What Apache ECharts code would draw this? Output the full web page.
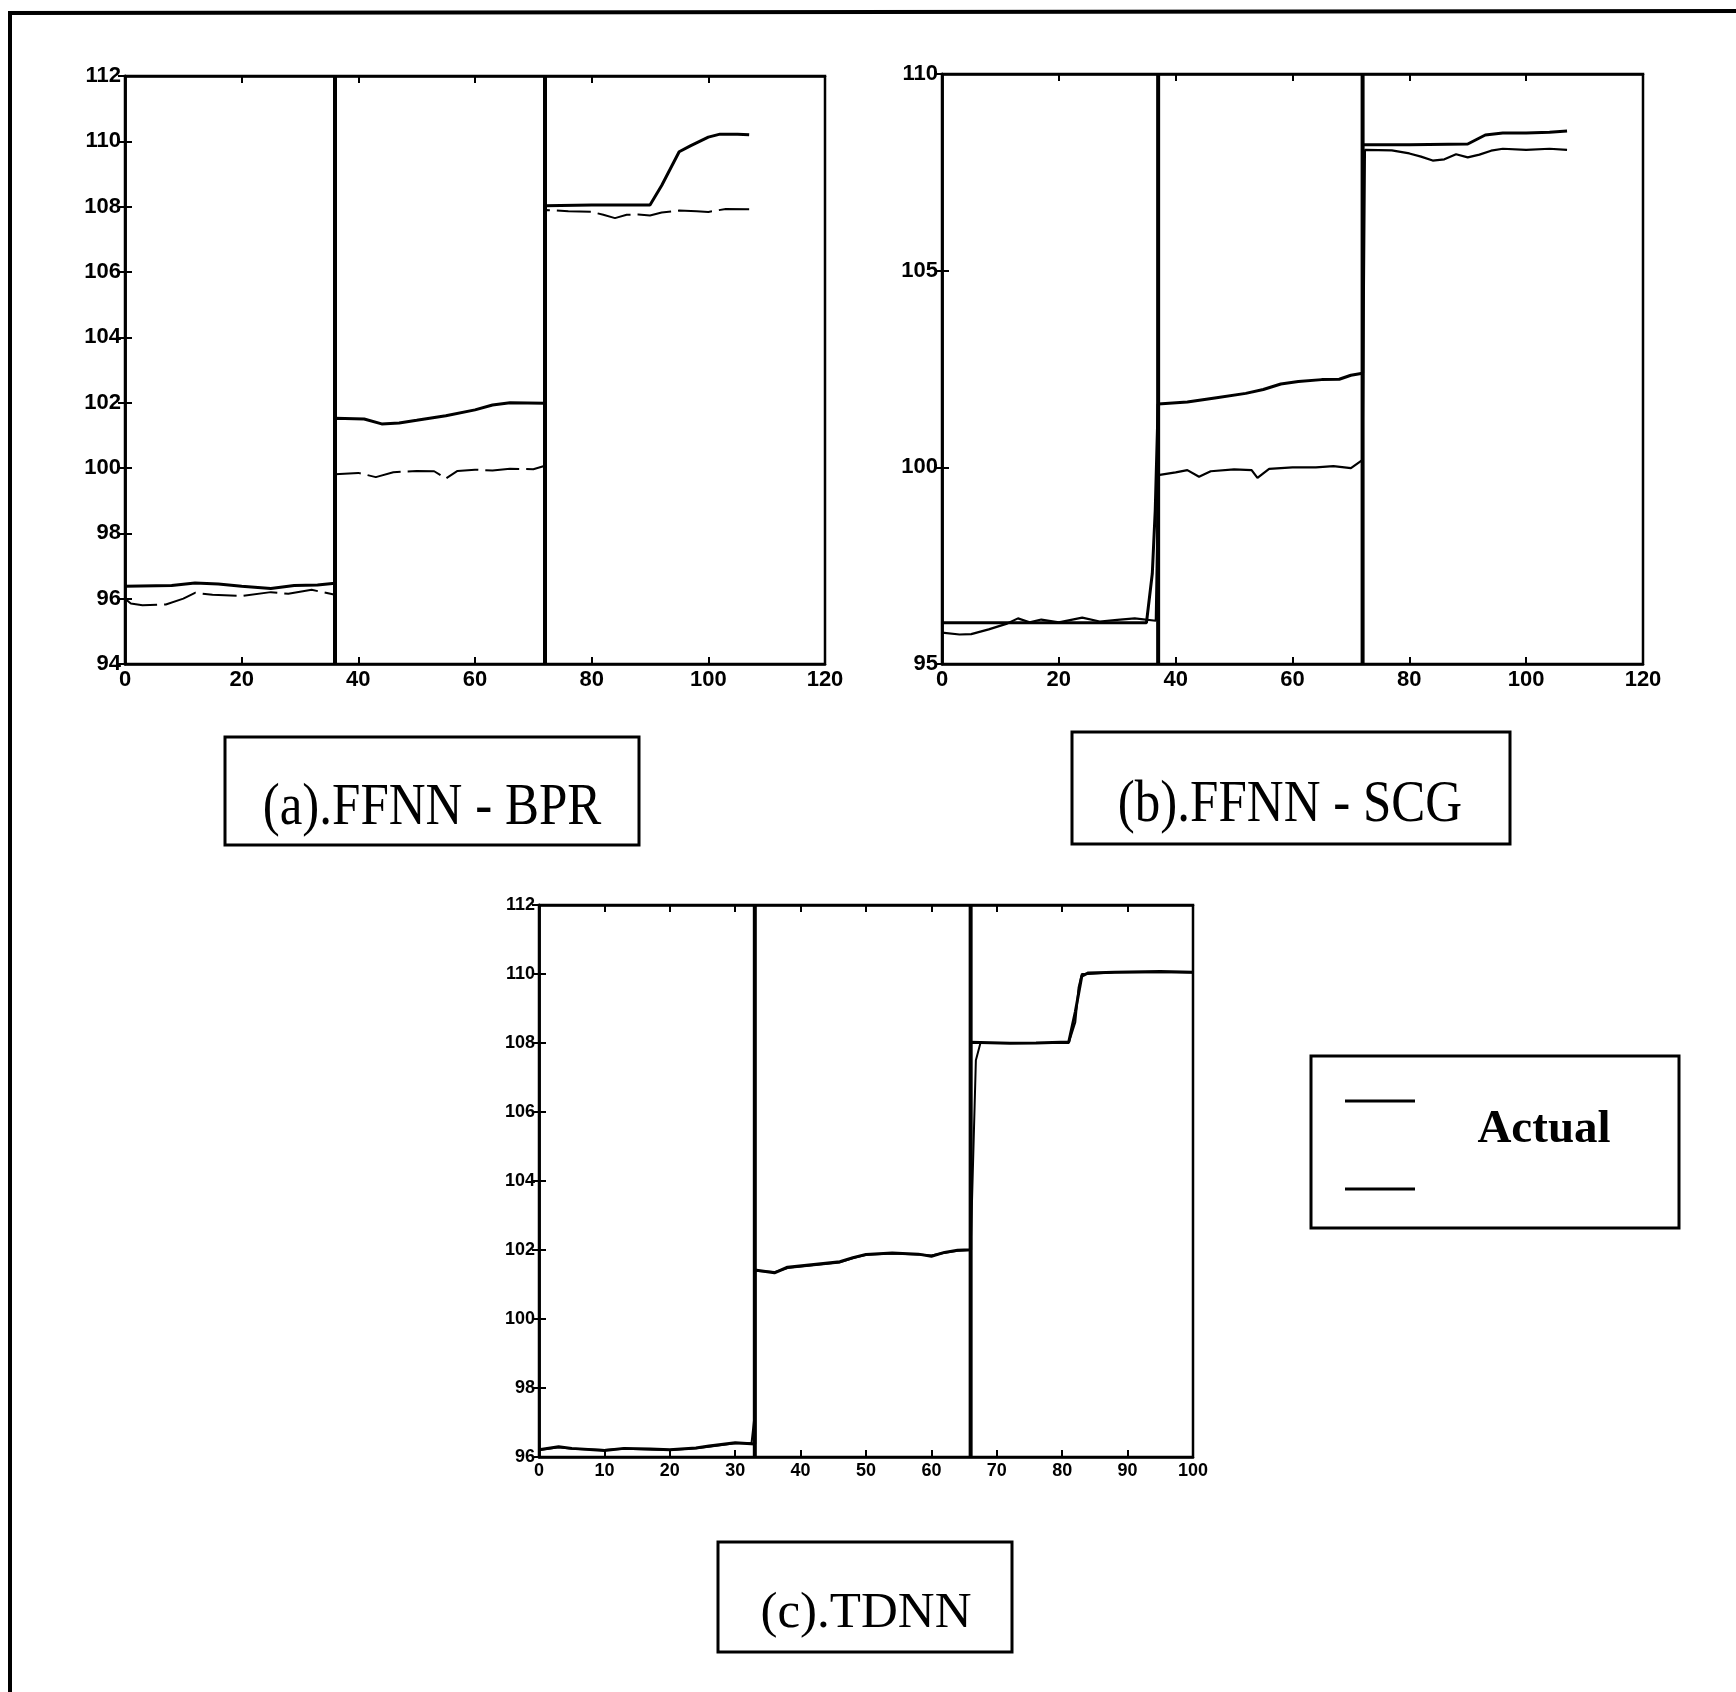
<!DOCTYPE html>
<html>
<head>
<meta charset="utf-8">
<script src="https://cdn.jsdelivr.net/npm/echarts@6/dist/echarts.min.js"></script>
<style>
  html, body { margin: 0; padding: 0; background: #fff; }
  #chart { width: 1736px; height: 1692px; }
</style>
</head>
<body>
<div id="chart"></div>
<script>
// ---------- Data ----------
// (a) FFNN - BPR
const aXTicks = [0, 20, 40, 60, 80, 100, 120];
const aYTicks = [94, 96, 98, 100, 102, 104, 106, 108, 110, 112];
const aSplits = [36, 72];
const aActualX = [0, 8, 12, 16, 20, 25, 29, 33, 36, 36, 41, 44, 47, 50, 55, 60, 63, 66, 72, 72, 80, 90, 92, 95, 97, 100, 102, 105, 107];
const aActualY = [96.38, 96.4, 96.48, 96.45, 96.38, 96.31, 96.4, 96.42, 96.47, 101.52, 101.5, 101.35, 101.38, 101.46, 101.6, 101.78, 101.93, 102.0, 101.98, 108.03, 108.05, 108.05, 108.65, 109.68, 109.87, 110.13, 110.22, 110.22, 110.2];
const aPredX = [0, 1, 3, 7, 10, 12, 15, 20, 25, 28, 32, 36, 36, 40, 43, 46, 50, 53, 55, 57, 60, 63, 66, 70, 72, 72, 76, 80, 82, 84, 86, 88, 90, 92, 95, 98, 100, 103, 107];
const aPredY = [96.0, 95.85, 95.8, 95.82, 96.0, 96.18, 96.12, 96.08, 96.2, 96.15, 96.27, 96.12, 99.81, 99.85, 99.72, 99.87, 99.91, 99.9, 99.68, 99.91, 99.95, 99.92, 99.98, 99.96, 100.07, 107.9, 107.86, 107.84, 107.75, 107.65, 107.75, 107.76, 107.73, 107.82, 107.88, 107.86, 107.84, 107.93, 107.92];

// (b) FFNN - SCG
const bXTicks = [0, 20, 40, 60, 80, 100, 120];
const bYTicks = [95, 100, 105, 110];
const bSplits = [37, 72];
const bActualX = [0, 10, 20, 30, 35, 36, 36.5, 37, 42, 47, 52, 55, 58, 61, 65, 68, 70, 72, 72, 80, 90, 93, 96, 100, 104, 107];
const bActualY = [96.05, 96.05, 96.05, 96.05, 96.05, 97.3, 98.9, 101.61, 101.66, 101.77, 101.88, 101.98, 102.12, 102.18, 102.23, 102.24, 102.34, 102.39, 108.2, 108.2, 108.22, 108.45, 108.5, 108.5, 108.52, 108.55];
const bPredX = [0, 3, 5, 8, 11, 13, 15, 17, 20, 24, 27, 30, 33, 36.6, 37, 40, 42, 44, 46, 50, 53, 54, 56, 60, 64, 67, 70, 72, 72.4, 77, 80, 82, 84, 86, 88, 90, 92, 94, 96, 100, 104, 107];
const bPredY = [95.8, 95.75, 95.76, 95.88, 96.02, 96.16, 96.06, 96.13, 96.06, 96.18, 96.08, 96.12, 96.16, 96.1, 99.8, 99.87, 99.93, 99.76, 99.9, 99.95, 99.93, 99.73, 99.96, 100.0, 100.0, 100.03, 99.98, 100.19, 108.07, 108.06, 107.98, 107.9, 107.8, 107.83, 107.96, 107.88, 107.95, 108.05, 108.1, 108.07, 108.1, 108.07];

// (c) TDNN
const cXTicks = [0, 10, 20, 30, 40, 50, 60, 70, 80, 90, 100];
const cYTicks = [96, 98, 100, 102, 104, 106, 108, 110, 112];
const cSplits = [33, 66];
const cActualX = [0, 3, 5, 10, 13, 17, 20, 24, 26, 30, 33, 33, 36, 38, 42, 46, 48, 50, 54, 58, 60, 62, 64, 66, 66, 72, 76, 81, 82, 83, 84, 88, 95, 100];
const cActualY = [96.21, 96.3, 96.25, 96.19, 96.25, 96.23, 96.21, 96.26, 96.32, 96.41, 96.38, 101.42, 101.34, 101.5, 101.58, 101.66, 101.78, 101.87, 101.91, 101.88, 101.82, 101.93, 101.99, 102.01, 108.02, 107.99, 108.0, 108.03, 108.9, 109.94, 110.03, 110.05, 110.07, 110.05];
const cPredX = [0, 3, 5, 10, 13, 17, 20, 24, 26, 30, 32.5, 32.9, 33, 36, 38, 42, 46, 48, 50, 54, 58, 60, 62, 64, 66, 66.8, 67.5, 72, 76, 81, 82, 82.5, 83, 84, 88, 95, 100];
const cPredY = [96.2, 96.28, 96.24, 96.2, 96.24, 96.22, 96.2, 96.25, 96.3, 96.4, 96.4, 97.1, 101.4, 101.36, 101.48, 101.56, 101.64, 101.76, 101.86, 101.9, 101.87, 101.84, 101.92, 101.98, 102.0, 107.5, 108.0, 108.0, 108.0, 108.0, 108.6, 109.6, 110.0, 110.0, 110.05, 110.06, 110.04];

const panelLabels = ['(a).FFNN - BPR', '(b).FFNN - SCG', '(c).TDNN'];
const legendLabels = ['Actual', ''];

// ---------- Build ----------
const pairs = (xs, ys) => xs.map((x, i) => [x, ys[i]]);
const tickFont = '"Liberation Sans Narrow", "Liberation Sans", Arial, sans-serif';

const panels = [
  { grid: { left: 125, top: 76, width: 700, height: 588 }, xt: aXTicks, yt: aYTicks, splits: aSplits,
    ax: aActualX, ay: aActualY, px: aPredX, py: aPredY, fs: 22, actW: 3, predW: 2, predType: [34, 7] },
  { grid: { left: 942, top: 74, width: 701, height: 590 }, xt: bXTicks, yt: bYTicks, splits: bSplits,
    ax: bActualX, ay: bActualY, px: bPredX, py: bPredY, fs: 22, actW: 3, predW: 2.2, predType: 'solid' },
  { grid: { left: 539, top: 905, width: 654, height: 552 }, xt: cXTicks, yt: cYTicks, splits: cSplits,
    ax: cActualX, ay: cActualY, px: cPredX, py: cPredY, fs: 18, actW: 3, predW: 2, predType: 'solid' }
];

const grids = [], xAxes = [], yAxes = [], series = [];
panels.forEach((p, i) => {
  const xmin = p.xt[0], xmax = p.xt[p.xt.length - 1], xint = p.xt[1] - p.xt[0];
  const ymin = p.yt[0], ymax = p.yt[p.yt.length - 1], yint = p.yt[1] - p.yt[0];
  grids.push(Object.assign({ show: true, borderColor: '#000', borderWidth: 2.5, backgroundColor: '#fff' }, p.grid));
  const lbl = { color: '#000', fontFamily: tickFont, fontWeight: 'bold', fontSize: p.fs };
  const tick = { inside: true, length: 7, lineStyle: { color: '#000', width: 2 } };
  const line = { lineStyle: { color: '#000', width: 2.5 } };
  xAxes.push({ gridIndex: i, type: 'value', min: xmin, max: xmax, interval: xint, position: 'bottom',
    axisLine: line, axisTick: tick, axisLabel: Object.assign({ margin: 5 }, lbl), splitLine: { show: false } });
  xAxes.push({ gridIndex: i, type: 'value', min: xmin, max: xmax, interval: xint, position: 'top',
    axisLine: line, axisTick: tick, axisLabel: { show: false }, splitLine: { show: false } });
  yAxes.push({ gridIndex: i, type: 'value', min: ymin, max: ymax, interval: yint, position: 'left',
    axisLine: line, axisTick: tick, axisLabel: Object.assign({ margin: 4 }, lbl), splitLine: { show: false } });
  yAxes.push({ gridIndex: i, type: 'value', min: ymin, max: ymax, interval: yint, position: 'right',
    axisLine: line, axisTick: tick, axisLabel: { show: false }, splitLine: { show: false } });
  const xi = i * 2, yi = i * 2;
  series.push({ type: 'line', name: 'Actual', xAxisIndex: xi, yAxisIndex: yi, data: pairs(p.ax, p.ay),
    showSymbol: false, symbol: 'none', lineStyle: { color: '#000', width: p.actW }, z: 3, animation: false });
  series.push({ type: 'line', name: 'Predicted', xAxisIndex: xi, yAxisIndex: yi, data: pairs(p.px, p.py),
    showSymbol: false, symbol: 'none', lineStyle: { color: '#000', width: p.predW, type: p.predType }, z: 3, animation: false });
  p.splits.forEach(s => {
    series.push({ type: 'line', xAxisIndex: xi, yAxisIndex: yi, data: [[s, ymin], [s, ymax]], symbol: 'none',
      lineStyle: { color: '#000', width: 4 }, z: 4, animation: false, silent: true });
  });
});

const serif = '"Liberation Serif", "Times New Roman", serif';
const graphic = [
  // scanned page frame (top and left edges)
  { type: 'line', shape: { x1: 10, y1: 13, x2: 1736, y2: 11 }, style: { stroke: '#000', lineWidth: 4 } },
  { type: 'line', shape: { x1: 10, y1: 11, x2: 10, y2: 1692 }, style: { stroke: '#000', lineWidth: 4 } },
  // caption boxes
  { type: 'rect', shape: { x: 225, y: 737, width: 414, height: 108 }, style: { fill: 'none', stroke: '#000', lineWidth: 3 } },
  { type: 'rect', shape: { x: 1072, y: 732, width: 438, height: 112 }, style: { fill: 'none', stroke: '#000', lineWidth: 3 } },
  { type: 'rect', shape: { x: 718, y: 1542, width: 294, height: 110 }, style: { fill: 'none', stroke: '#000', lineWidth: 3 } },
  { type: 'text', x: 432, y: 809, scaleY: 1.15, style: { text: panelLabels[0], font: '51px ' + serif, fill: '#000', textAlign: 'center', textVerticalAlign: 'middle' } },
  { type: 'text', x: 1290, y: 806, scaleY: 1.15, style: { text: panelLabels[1], font: '51px ' + serif, fill: '#000', textAlign: 'center', textVerticalAlign: 'middle' } },
  { type: 'text', x: 866, y: 1614, style: { text: panelLabels[2], font: '51px ' + serif, fill: '#000', textAlign: 'center', textVerticalAlign: 'middle' } },
  // legend
  { type: 'rect', shape: { x: 1311, y: 1056, width: 368, height: 172 }, style: { fill: 'none', stroke: '#000', lineWidth: 3 } },
  { type: 'line', shape: { x1: 1345, y1: 1101, x2: 1415, y2: 1101 }, style: { stroke: '#000', lineWidth: 3 } },
  { type: 'line', shape: { x1: 1345, y1: 1189, x2: 1415, y2: 1189 }, style: { stroke: '#000', lineWidth: 3 } },
  { type: 'text', x: 1544, y: 1130, style: { text: legendLabels[0], font: 'bold 47px ' + serif, fill: '#000', textAlign: 'center', textVerticalAlign: 'middle' } },
  { type: 'text', x: 1544, y: 1200, style: { text: legendLabels[1], font: 'bold 47px ' + serif, fill: '#000', textAlign: 'center', textVerticalAlign: 'middle' } }
];

const chart = echarts.init(document.getElementById('chart'), null, { renderer: 'canvas' });
chart.setOption({
  backgroundColor: '#fff',
  animation: false,
  grid: grids,
  xAxis: xAxes,
  yAxis: yAxes,
  series: series,
  graphic: graphic
});
</script>
</body>
</html>
